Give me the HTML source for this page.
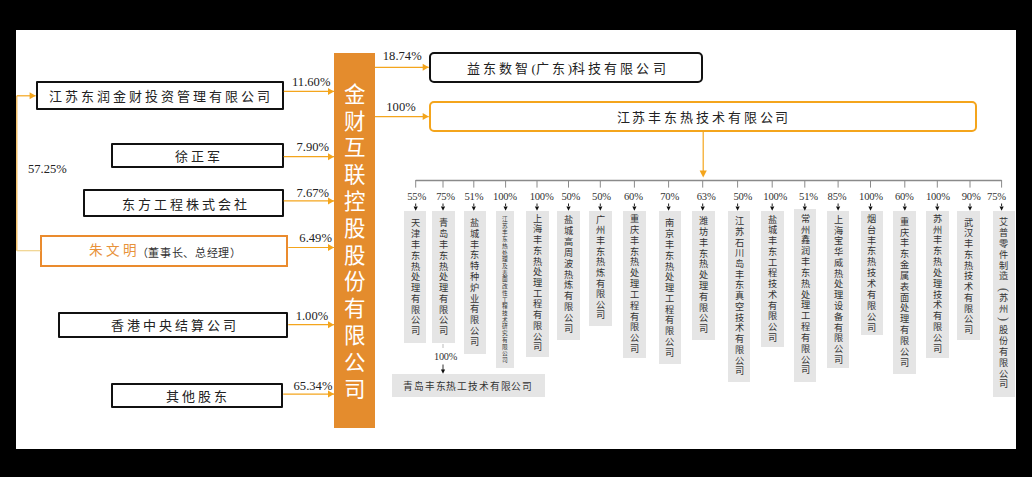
<!DOCTYPE html>
<html lang="zh-CN"><head><meta charset="utf-8"><style>
html,body{margin:0;padding:0;width:1032px;height:477px;overflow:hidden;background:#000}
body{position:relative;font-family:"Liberation Serif", serif}
#panel{position:absolute;left:16px;top:30px;width:1000px;height:419px;background:#fff}
svg{position:absolute;left:0;top:0}
</style></head><body>
<div id="panel"></div>
<div style="position:absolute;left:35.6px;top:80.5px;width:248.20000000000002px;height:29.599999999999994px;box-sizing:border-box;border:2.4px solid #111;border-radius:1px;background:#fff"></div><div style="position:absolute;left:48.54px;top:90.08px;font-size:13px;line-height:13px;color:#222;letter-spacing:3.0px;white-space:nowrap;">江苏东润金财投资管理有限公司</div><div style="position:absolute;left:230.39999999999998px;width:100px;top:76.058px;text-align:right;font-family:'Liberation Serif', serif;font-size:12.6px;line-height:12.6px;color:#222;white-space:nowrap">11.60%</div><div style="position:absolute;left:110.5px;top:142.8px;width:173.2px;height:24.899999999999977px;box-sizing:border-box;border:2.4px solid #111;border-radius:1px;background:#fff"></div><div style="position:absolute;left:174.64000000000001px;top:149.98px;font-size:13px;line-height:13px;color:#222;letter-spacing:3.0px;white-space:nowrap;">徐正军</div><div style="position:absolute;left:229px;width:100px;top:141.45800000000003px;text-align:right;font-family:'Liberation Serif', serif;font-size:12.6px;line-height:12.6px;color:#222;white-space:nowrap">7.90%</div><div style="position:absolute;left:82.5px;top:189.0px;width:201.2px;height:28.19999999999999px;box-sizing:border-box;border:2.4px solid #111;border-radius:1px;background:#fff"></div><div style="position:absolute;left:121.74px;top:197.67999999999998px;font-size:13px;line-height:13px;color:#222;letter-spacing:3.0px;white-space:nowrap;">东方工程株式会社</div><div style="position:absolute;left:229px;width:100px;top:186.65800000000002px;text-align:right;font-family:'Liberation Serif', serif;font-size:12.6px;line-height:12.6px;color:#222;white-space:nowrap">7.67%</div><div style="position:absolute;left:58.4px;top:312.4px;width:229.9px;height:25.200000000000045px;box-sizing:border-box;border:2.4px solid #111;border-radius:1px;background:#fff"></div><div style="position:absolute;left:111.03999999999999px;top:319.48px;font-size:13px;line-height:13px;color:#222;letter-spacing:3.0px;white-space:nowrap;">香港中央结算公司</div><div style="position:absolute;left:228.2px;width:100px;top:309.858px;text-align:right;font-family:'Liberation Serif', serif;font-size:12.6px;line-height:12.6px;color:#222;white-space:nowrap">1.00%</div><div style="position:absolute;left:110.8px;top:382.7px;width:172.39999999999998px;height:25.0px;box-sizing:border-box;border:2.4px solid #111;border-radius:1px;background:#fff"></div><div style="position:absolute;left:166.34px;top:389.68px;font-size:13px;line-height:13px;color:#222;letter-spacing:3.0px;white-space:nowrap;">其他股东</div><div style="position:absolute;left:232.39999999999998px;width:100px;top:380.158px;text-align:right;font-family:'Liberation Serif', serif;font-size:12.6px;line-height:12.6px;color:#222;white-space:nowrap">65.34%</div><div style="position:absolute;left:39.5px;top:234.5px;width:248.8px;height:32.10000000000002px;box-sizing:border-box;border:2.6px solid #EA8B2E;border-radius:0px;background:#fff"></div><div style="position:absolute;left:89.0px;top:244.3px;font-size:13.6px;line-height:13.6px;color:#E8923A;letter-spacing:2.9px;white-space:nowrap;">朱文明</div><div style="position:absolute;left:136.5px;top:248.3px;font-size:11px;line-height:11px;color:#333;letter-spacing:0.7px;white-space:nowrap;">（董事长、总经理）</div><div style="position:absolute;left:231.89999999999998px;width:100px;top:231.858px;text-align:right;font-family:'Liberation Serif', serif;font-size:12.6px;line-height:12.6px;color:#222">6.49%</div><div style="position:absolute;left:28px;top:163.058px;font-family:'Liberation Serif', serif;font-size:12.6px;line-height:12.6px;color:#222">57.25%</div><div style="position:absolute;left:334px;top:52.6px;width:41px;height:375.6px;background:#E48C2D"></div><div style="position:absolute;left:334px;width:41px;top:84.86px;text-align:center;font-size:21.5px;line-height:21.5px;color:#fff">金</div><div style="position:absolute;left:334px;width:41px;top:111.66px;text-align:center;font-size:21.5px;line-height:21.5px;color:#fff">财</div><div style="position:absolute;left:334px;width:41px;top:138.45px;text-align:center;font-size:21.5px;line-height:21.5px;color:#fff">互</div><div style="position:absolute;left:334px;width:41px;top:165.25px;text-align:center;font-size:21.5px;line-height:21.5px;color:#fff">联</div><div style="position:absolute;left:334px;width:41px;top:192.05px;text-align:center;font-size:21.5px;line-height:21.5px;color:#fff">控</div><div style="position:absolute;left:334px;width:41px;top:218.85px;text-align:center;font-size:21.5px;line-height:21.5px;color:#fff">股</div><div style="position:absolute;left:334px;width:41px;top:245.66px;text-align:center;font-size:21.5px;line-height:21.5px;color:#fff">股</div><div style="position:absolute;left:334px;width:41px;top:272.46px;text-align:center;font-size:21.5px;line-height:21.5px;color:#fff">份</div><div style="position:absolute;left:334px;width:41px;top:299.25px;text-align:center;font-size:21.5px;line-height:21.5px;color:#fff">有</div><div style="position:absolute;left:334px;width:41px;top:326.06px;text-align:center;font-size:21.5px;line-height:21.5px;color:#fff">限</div><div style="position:absolute;left:334px;width:41px;top:352.86px;text-align:center;font-size:21.5px;line-height:21.5px;color:#fff">公</div><div style="position:absolute;left:334px;width:41px;top:379.66px;text-align:center;font-size:21.5px;line-height:21.5px;color:#fff">司</div><div style="position:absolute;left:428.7px;top:52.4px;width:273.90000000000003px;height:30.300000000000004px;box-sizing:border-box;border:2.4px solid #111;border-radius:5px;background:#fff"></div><div style="position:absolute;left:467.1px;top:61.7px;font-size:13px;line-height:13px;color:#222;letter-spacing:3.07px;white-space:nowrap;">益东数智<span style="letter-spacing:0">(</span>广东<span style="letter-spacing:0">)</span>科技有限公司</div><div style="position:absolute;left:382.8px;top:50.458px;font-family:'Liberation Serif', serif;font-size:12.6px;line-height:12.6px;color:#222">18.74%</div><div style="position:absolute;left:428.7px;top:101.2px;width:548.8px;height:30.799999999999997px;box-sizing:border-box;border:2.5px solid #F4A51C;border-radius:5px;background:#fff"></div><div style="position:absolute;left:616.5px;top:111px;font-size:13px;line-height:13px;color:#222;letter-spacing:2.9px;white-space:nowrap;">江苏丰东热技术有限公司</div><div style="position:absolute;left:386.3px;top:100.858px;font-family:'Liberation Serif', serif;font-size:12.6px;line-height:12.6px;color:#222">100%</div><div style="position:absolute;left:386.7px;width:60px;top:191.99800000000002px;text-align:center;font-family:'Liberation Serif', serif;font-size:10.6px;line-height:10.6px;color:#333;letter-spacing:-0.2px">55%</div><div style="position:absolute;left:415.6px;width:60px;top:191.99800000000002px;text-align:center;font-family:'Liberation Serif', serif;font-size:10.6px;line-height:10.6px;color:#333;letter-spacing:-0.2px">75%</div><div style="position:absolute;left:443.9px;width:60px;top:191.99800000000002px;text-align:center;font-family:'Liberation Serif', serif;font-size:10.6px;line-height:10.6px;color:#333;letter-spacing:-0.2px">51%</div><div style="position:absolute;left:475px;width:60px;top:191.99800000000002px;text-align:center;font-family:'Liberation Serif', serif;font-size:10.6px;line-height:10.6px;color:#333;letter-spacing:-0.2px">100%</div><div style="position:absolute;left:511.6px;width:60px;top:191.99800000000002px;text-align:center;font-family:'Liberation Serif', serif;font-size:10.6px;line-height:10.6px;color:#333;letter-spacing:-0.2px">100%</div><div style="position:absolute;left:540.8px;width:60px;top:191.99800000000002px;text-align:center;font-family:'Liberation Serif', serif;font-size:10.6px;line-height:10.6px;color:#333;letter-spacing:-0.2px">50%</div><div style="position:absolute;left:571.5px;width:60px;top:191.99800000000002px;text-align:center;font-family:'Liberation Serif', serif;font-size:10.6px;line-height:10.6px;color:#333;letter-spacing:-0.2px">50%</div><div style="position:absolute;left:603.4px;width:60px;top:191.99800000000002px;text-align:center;font-family:'Liberation Serif', serif;font-size:10.6px;line-height:10.6px;color:#333;letter-spacing:-0.2px">60%</div><div style="position:absolute;left:639.7px;width:60px;top:191.99800000000002px;text-align:center;font-family:'Liberation Serif', serif;font-size:10.6px;line-height:10.6px;color:#333;letter-spacing:-0.2px">70%</div><div style="position:absolute;left:676.2px;width:60px;top:191.99800000000002px;text-align:center;font-family:'Liberation Serif', serif;font-size:10.6px;line-height:10.6px;color:#333;letter-spacing:-0.2px">63%</div><div style="position:absolute;left:712.8px;width:60px;top:191.99800000000002px;text-align:center;font-family:'Liberation Serif', serif;font-size:10.6px;line-height:10.6px;color:#333;letter-spacing:-0.2px">50%</div><div style="position:absolute;left:745.3px;width:60px;top:191.99800000000002px;text-align:center;font-family:'Liberation Serif', serif;font-size:10.6px;line-height:10.6px;color:#333;letter-spacing:-0.2px">100%</div><div style="position:absolute;left:778.5px;width:60px;top:191.99800000000002px;text-align:center;font-family:'Liberation Serif', serif;font-size:10.6px;line-height:10.6px;color:#333;letter-spacing:-0.2px">51%</div><div style="position:absolute;left:807px;width:60px;top:191.99800000000002px;text-align:center;font-family:'Liberation Serif', serif;font-size:10.6px;line-height:10.6px;color:#333;letter-spacing:-0.2px">85%</div><div style="position:absolute;left:841px;width:60px;top:191.99800000000002px;text-align:center;font-family:'Liberation Serif', serif;font-size:10.6px;line-height:10.6px;color:#333;letter-spacing:-0.2px">100%</div><div style="position:absolute;left:874.3px;width:60px;top:191.99800000000002px;text-align:center;font-family:'Liberation Serif', serif;font-size:10.6px;line-height:10.6px;color:#333;letter-spacing:-0.2px">60%</div><div style="position:absolute;left:907.9px;width:60px;top:191.99800000000002px;text-align:center;font-family:'Liberation Serif', serif;font-size:10.6px;line-height:10.6px;color:#333;letter-spacing:-0.2px">100%</div><div style="position:absolute;left:941.2px;width:60px;top:191.99800000000002px;text-align:center;font-family:'Liberation Serif', serif;font-size:10.6px;line-height:10.6px;color:#333;letter-spacing:-0.2px">90%</div><div style="position:absolute;left:966.5px;width:60px;top:191.99800000000002px;text-align:center;font-family:'Liberation Serif', serif;font-size:10.6px;line-height:10.6px;color:#333;letter-spacing:-0.2px">75%</div><div style="position:absolute;left:404px;top:211.2px;width:22.2px;height:132.0px;background:#E5E5E5"></div><div style="position:absolute;left:405.1px;width:20px;top:219.42px;text-align:center;font-size:9.2px;line-height:9.2px;color:#333">天</div><div style="position:absolute;left:405.1px;width:20px;top:230.20px;text-align:center;font-size:9.2px;line-height:9.2px;color:#333">津</div><div style="position:absolute;left:405.1px;width:20px;top:240.97px;text-align:center;font-size:9.2px;line-height:9.2px;color:#333">丰</div><div style="position:absolute;left:405.1px;width:20px;top:251.74px;text-align:center;font-size:9.2px;line-height:9.2px;color:#333">东</div><div style="position:absolute;left:405.1px;width:20px;top:262.51px;text-align:center;font-size:9.2px;line-height:9.2px;color:#333">热</div><div style="position:absolute;left:405.1px;width:20px;top:273.28px;text-align:center;font-size:9.2px;line-height:9.2px;color:#333">处</div><div style="position:absolute;left:405.1px;width:20px;top:284.06px;text-align:center;font-size:9.2px;line-height:9.2px;color:#333">理</div><div style="position:absolute;left:405.1px;width:20px;top:294.83px;text-align:center;font-size:9.2px;line-height:9.2px;color:#333">有</div><div style="position:absolute;left:405.1px;width:20px;top:305.60px;text-align:center;font-size:9.2px;line-height:9.2px;color:#333">限</div><div style="position:absolute;left:405.1px;width:20px;top:316.37px;text-align:center;font-size:9.2px;line-height:9.2px;color:#333">公</div><div style="position:absolute;left:405.1px;width:20px;top:327.14px;text-align:center;font-size:9.2px;line-height:9.2px;color:#333">司</div><div style="position:absolute;left:432.3px;top:211.2px;width:22.7px;height:132.2px;background:#E5E5E5"></div><div style="position:absolute;left:433.65px;width:20px;top:219.42px;text-align:center;font-size:9.2px;line-height:9.2px;color:#333">青</div><div style="position:absolute;left:433.65px;width:20px;top:230.20px;text-align:center;font-size:9.2px;line-height:9.2px;color:#333">岛</div><div style="position:absolute;left:433.65px;width:20px;top:240.97px;text-align:center;font-size:9.2px;line-height:9.2px;color:#333">丰</div><div style="position:absolute;left:433.65px;width:20px;top:251.74px;text-align:center;font-size:9.2px;line-height:9.2px;color:#333">东</div><div style="position:absolute;left:433.65px;width:20px;top:262.51px;text-align:center;font-size:9.2px;line-height:9.2px;color:#333">热</div><div style="position:absolute;left:433.65px;width:20px;top:273.28px;text-align:center;font-size:9.2px;line-height:9.2px;color:#333">处</div><div style="position:absolute;left:433.65px;width:20px;top:284.06px;text-align:center;font-size:9.2px;line-height:9.2px;color:#333">理</div><div style="position:absolute;left:433.65px;width:20px;top:294.83px;text-align:center;font-size:9.2px;line-height:9.2px;color:#333">有</div><div style="position:absolute;left:433.65px;width:20px;top:305.60px;text-align:center;font-size:9.2px;line-height:9.2px;color:#333">限</div><div style="position:absolute;left:433.65px;width:20px;top:316.37px;text-align:center;font-size:9.2px;line-height:9.2px;color:#333">公</div><div style="position:absolute;left:433.65px;width:20px;top:327.14px;text-align:center;font-size:9.2px;line-height:9.2px;color:#333">司</div><div style="position:absolute;left:464px;top:211.2px;width:21.8px;height:143.0px;background:#E5E5E5"></div><div style="position:absolute;left:464.9px;width:20px;top:219.02px;text-align:center;font-size:9.2px;line-height:9.2px;color:#333">盐</div><div style="position:absolute;left:464.9px;width:20px;top:229.83px;text-align:center;font-size:9.2px;line-height:9.2px;color:#333">城</div><div style="position:absolute;left:464.9px;width:20px;top:240.63px;text-align:center;font-size:9.2px;line-height:9.2px;color:#333">丰</div><div style="position:absolute;left:464.9px;width:20px;top:251.43px;text-align:center;font-size:9.2px;line-height:9.2px;color:#333">东</div><div style="position:absolute;left:464.9px;width:20px;top:262.23px;text-align:center;font-size:9.2px;line-height:9.2px;color:#333">特</div><div style="position:absolute;left:464.9px;width:20px;top:273.03px;text-align:center;font-size:9.2px;line-height:9.2px;color:#333">种</div><div style="position:absolute;left:464.9px;width:20px;top:283.83px;text-align:center;font-size:9.2px;line-height:9.2px;color:#333">炉</div><div style="position:absolute;left:464.9px;width:20px;top:294.64px;text-align:center;font-size:9.2px;line-height:9.2px;color:#333">业</div><div style="position:absolute;left:464.9px;width:20px;top:305.44px;text-align:center;font-size:9.2px;line-height:9.2px;color:#333">有</div><div style="position:absolute;left:464.9px;width:20px;top:316.24px;text-align:center;font-size:9.2px;line-height:9.2px;color:#333">限</div><div style="position:absolute;left:464.9px;width:20px;top:327.04px;text-align:center;font-size:9.2px;line-height:9.2px;color:#333">公</div><div style="position:absolute;left:464.9px;width:20px;top:337.84px;text-align:center;font-size:9.2px;line-height:9.2px;color:#333">司</div><div style="position:absolute;left:496.3px;top:211.2px;width:17.4px;height:156.8px;background:#E5E5E5"></div><div style="position:absolute;left:495.0px;width:20px;top:216.93px;text-align:center;font-size:5.7px;line-height:5.7px;color:#333">江</div><div style="position:absolute;left:495.0px;width:20px;top:223.65px;text-align:center;font-size:5.7px;line-height:5.7px;color:#333">苏</div><div style="position:absolute;left:495.0px;width:20px;top:230.37px;text-align:center;font-size:5.7px;line-height:5.7px;color:#333">丰</div><div style="position:absolute;left:495.0px;width:20px;top:237.10px;text-align:center;font-size:5.7px;line-height:5.7px;color:#333">东</div><div style="position:absolute;left:495.0px;width:20px;top:243.82px;text-align:center;font-size:5.7px;line-height:5.7px;color:#333">热</div><div style="position:absolute;left:495.0px;width:20px;top:250.54px;text-align:center;font-size:5.7px;line-height:5.7px;color:#333">处</div><div style="position:absolute;left:495.0px;width:20px;top:257.26px;text-align:center;font-size:5.7px;line-height:5.7px;color:#333">理</div><div style="position:absolute;left:495.0px;width:20px;top:263.99px;text-align:center;font-size:5.7px;line-height:5.7px;color:#333">及</div><div style="position:absolute;left:495.0px;width:20px;top:270.71px;text-align:center;font-size:5.7px;line-height:5.7px;color:#333">表</div><div style="position:absolute;left:495.0px;width:20px;top:277.43px;text-align:center;font-size:5.7px;line-height:5.7px;color:#333">面</div><div style="position:absolute;left:495.0px;width:20px;top:284.15px;text-align:center;font-size:5.7px;line-height:5.7px;color:#333">改</div><div style="position:absolute;left:495.0px;width:20px;top:290.88px;text-align:center;font-size:5.7px;line-height:5.7px;color:#333">性</div><div style="position:absolute;left:495.0px;width:20px;top:297.60px;text-align:center;font-size:5.7px;line-height:5.7px;color:#333">工</div><div style="position:absolute;left:495.0px;width:20px;top:304.32px;text-align:center;font-size:5.7px;line-height:5.7px;color:#333">程</div><div style="position:absolute;left:495.0px;width:20px;top:311.04px;text-align:center;font-size:5.7px;line-height:5.7px;color:#333">技</div><div style="position:absolute;left:495.0px;width:20px;top:317.76px;text-align:center;font-size:5.7px;line-height:5.7px;color:#333">术</div><div style="position:absolute;left:495.0px;width:20px;top:324.49px;text-align:center;font-size:5.7px;line-height:5.7px;color:#333">研</div><div style="position:absolute;left:495.0px;width:20px;top:331.21px;text-align:center;font-size:5.7px;line-height:5.7px;color:#333">究</div><div style="position:absolute;left:495.0px;width:20px;top:337.93px;text-align:center;font-size:5.7px;line-height:5.7px;color:#333">有</div><div style="position:absolute;left:495.0px;width:20px;top:344.65px;text-align:center;font-size:5.7px;line-height:5.7px;color:#333">限</div><div style="position:absolute;left:495.0px;width:20px;top:351.38px;text-align:center;font-size:5.7px;line-height:5.7px;color:#333">公</div><div style="position:absolute;left:495.0px;width:20px;top:358.10px;text-align:center;font-size:5.7px;line-height:5.7px;color:#333">司</div><div style="position:absolute;left:526.2px;top:211.2px;width:22.4px;height:145.4px;background:#E5E5E5"></div><div style="position:absolute;left:527.4000000000001px;width:20px;top:214.52px;text-align:center;font-size:9.2px;line-height:9.2px;color:#333">上</div><div style="position:absolute;left:527.4000000000001px;width:20px;top:225.27px;text-align:center;font-size:9.2px;line-height:9.2px;color:#333">海</div><div style="position:absolute;left:527.4000000000001px;width:20px;top:236.01px;text-align:center;font-size:9.2px;line-height:9.2px;color:#333">丰</div><div style="position:absolute;left:527.4000000000001px;width:20px;top:246.75px;text-align:center;font-size:9.2px;line-height:9.2px;color:#333">东</div><div style="position:absolute;left:527.4000000000001px;width:20px;top:257.50px;text-align:center;font-size:9.2px;line-height:9.2px;color:#333">热</div><div style="position:absolute;left:527.4000000000001px;width:20px;top:268.24px;text-align:center;font-size:9.2px;line-height:9.2px;color:#333">处</div><div style="position:absolute;left:527.4000000000001px;width:20px;top:278.98px;text-align:center;font-size:9.2px;line-height:9.2px;color:#333">理</div><div style="position:absolute;left:527.4000000000001px;width:20px;top:289.73px;text-align:center;font-size:9.2px;line-height:9.2px;color:#333">工</div><div style="position:absolute;left:527.4000000000001px;width:20px;top:300.47px;text-align:center;font-size:9.2px;line-height:9.2px;color:#333">程</div><div style="position:absolute;left:527.4000000000001px;width:20px;top:311.21px;text-align:center;font-size:9.2px;line-height:9.2px;color:#333">有</div><div style="position:absolute;left:527.4000000000001px;width:20px;top:321.96px;text-align:center;font-size:9.2px;line-height:9.2px;color:#333">限</div><div style="position:absolute;left:527.4000000000001px;width:20px;top:332.70px;text-align:center;font-size:9.2px;line-height:9.2px;color:#333">公</div><div style="position:absolute;left:527.4000000000001px;width:20px;top:343.44px;text-align:center;font-size:9.2px;line-height:9.2px;color:#333">司</div><div style="position:absolute;left:556.7px;top:211.2px;width:23.0px;height:128.6px;background:#E5E5E5"></div><div style="position:absolute;left:558.2px;width:20px;top:216.32px;text-align:center;font-size:9.2px;line-height:9.2px;color:#333">盐</div><div style="position:absolute;left:558.2px;width:20px;top:227.18px;text-align:center;font-size:9.2px;line-height:9.2px;color:#333">城</div><div style="position:absolute;left:558.2px;width:20px;top:238.03px;text-align:center;font-size:9.2px;line-height:9.2px;color:#333">高</div><div style="position:absolute;left:558.2px;width:20px;top:248.88px;text-align:center;font-size:9.2px;line-height:9.2px;color:#333">周</div><div style="position:absolute;left:558.2px;width:20px;top:259.73px;text-align:center;font-size:9.2px;line-height:9.2px;color:#333">波</div><div style="position:absolute;left:558.2px;width:20px;top:270.58px;text-align:center;font-size:9.2px;line-height:9.2px;color:#333">热</div><div style="position:absolute;left:558.2px;width:20px;top:281.44px;text-align:center;font-size:9.2px;line-height:9.2px;color:#333">炼</div><div style="position:absolute;left:558.2px;width:20px;top:292.29px;text-align:center;font-size:9.2px;line-height:9.2px;color:#333">有</div><div style="position:absolute;left:558.2px;width:20px;top:303.14px;text-align:center;font-size:9.2px;line-height:9.2px;color:#333">限</div><div style="position:absolute;left:558.2px;width:20px;top:313.99px;text-align:center;font-size:9.2px;line-height:9.2px;color:#333">公</div><div style="position:absolute;left:558.2px;width:20px;top:324.84px;text-align:center;font-size:9.2px;line-height:9.2px;color:#333">司</div><div style="position:absolute;left:589px;top:211.2px;width:22.6px;height:114.4px;background:#E5E5E5"></div><div style="position:absolute;left:590.3px;width:20px;top:215.72px;text-align:center;font-size:9.2px;line-height:9.2px;color:#333">广</div><div style="position:absolute;left:590.3px;width:20px;top:226.36px;text-align:center;font-size:9.2px;line-height:9.2px;color:#333">州</div><div style="position:absolute;left:590.3px;width:20px;top:237.00px;text-align:center;font-size:9.2px;line-height:9.2px;color:#333">丰</div><div style="position:absolute;left:590.3px;width:20px;top:247.63px;text-align:center;font-size:9.2px;line-height:9.2px;color:#333">东</div><div style="position:absolute;left:590.3px;width:20px;top:258.27px;text-align:center;font-size:9.2px;line-height:9.2px;color:#333">热</div><div style="position:absolute;left:590.3px;width:20px;top:268.90px;text-align:center;font-size:9.2px;line-height:9.2px;color:#333">炼</div><div style="position:absolute;left:590.3px;width:20px;top:279.54px;text-align:center;font-size:9.2px;line-height:9.2px;color:#333">有</div><div style="position:absolute;left:590.3px;width:20px;top:290.17px;text-align:center;font-size:9.2px;line-height:9.2px;color:#333">限</div><div style="position:absolute;left:590.3px;width:20px;top:300.81px;text-align:center;font-size:9.2px;line-height:9.2px;color:#333">公</div><div style="position:absolute;left:590.3px;width:20px;top:311.44px;text-align:center;font-size:9.2px;line-height:9.2px;color:#333">司</div><div style="position:absolute;left:623px;top:211.2px;width:22.7px;height:146.4px;background:#E5E5E5"></div><div style="position:absolute;left:624.35px;width:20px;top:215.02px;text-align:center;font-size:9.2px;line-height:9.2px;color:#333">重</div><div style="position:absolute;left:624.35px;width:20px;top:225.87px;text-align:center;font-size:9.2px;line-height:9.2px;color:#333">庆</div><div style="position:absolute;left:624.35px;width:20px;top:236.71px;text-align:center;font-size:9.2px;line-height:9.2px;color:#333">丰</div><div style="position:absolute;left:624.35px;width:20px;top:247.55px;text-align:center;font-size:9.2px;line-height:9.2px;color:#333">东</div><div style="position:absolute;left:624.35px;width:20px;top:258.40px;text-align:center;font-size:9.2px;line-height:9.2px;color:#333">热</div><div style="position:absolute;left:624.35px;width:20px;top:269.24px;text-align:center;font-size:9.2px;line-height:9.2px;color:#333">处</div><div style="position:absolute;left:624.35px;width:20px;top:280.08px;text-align:center;font-size:9.2px;line-height:9.2px;color:#333">理</div><div style="position:absolute;left:624.35px;width:20px;top:290.93px;text-align:center;font-size:9.2px;line-height:9.2px;color:#333">工</div><div style="position:absolute;left:624.35px;width:20px;top:301.77px;text-align:center;font-size:9.2px;line-height:9.2px;color:#333">程</div><div style="position:absolute;left:624.35px;width:20px;top:312.61px;text-align:center;font-size:9.2px;line-height:9.2px;color:#333">有</div><div style="position:absolute;left:624.35px;width:20px;top:323.46px;text-align:center;font-size:9.2px;line-height:9.2px;color:#333">限</div><div style="position:absolute;left:624.35px;width:20px;top:334.30px;text-align:center;font-size:9.2px;line-height:9.2px;color:#333">公</div><div style="position:absolute;left:624.35px;width:20px;top:345.14px;text-align:center;font-size:9.2px;line-height:9.2px;color:#333">司</div><div style="position:absolute;left:659px;top:211.2px;width:21.8px;height:152.9px;background:#E5E5E5"></div><div style="position:absolute;left:659.9px;width:20px;top:219.32px;text-align:center;font-size:9.2px;line-height:9.2px;color:#333">南</div><div style="position:absolute;left:659.9px;width:20px;top:230.12px;text-align:center;font-size:9.2px;line-height:9.2px;color:#333">京</div><div style="position:absolute;left:659.9px;width:20px;top:240.91px;text-align:center;font-size:9.2px;line-height:9.2px;color:#333">丰</div><div style="position:absolute;left:659.9px;width:20px;top:251.70px;text-align:center;font-size:9.2px;line-height:9.2px;color:#333">东</div><div style="position:absolute;left:659.9px;width:20px;top:262.50px;text-align:center;font-size:9.2px;line-height:9.2px;color:#333">热</div><div style="position:absolute;left:659.9px;width:20px;top:273.29px;text-align:center;font-size:9.2px;line-height:9.2px;color:#333">处</div><div style="position:absolute;left:659.9px;width:20px;top:284.08px;text-align:center;font-size:9.2px;line-height:9.2px;color:#333">理</div><div style="position:absolute;left:659.9px;width:20px;top:294.88px;text-align:center;font-size:9.2px;line-height:9.2px;color:#333">工</div><div style="position:absolute;left:659.9px;width:20px;top:305.67px;text-align:center;font-size:9.2px;line-height:9.2px;color:#333">程</div><div style="position:absolute;left:659.9px;width:20px;top:316.46px;text-align:center;font-size:9.2px;line-height:9.2px;color:#333">有</div><div style="position:absolute;left:659.9px;width:20px;top:327.26px;text-align:center;font-size:9.2px;line-height:9.2px;color:#333">限</div><div style="position:absolute;left:659.9px;width:20px;top:338.05px;text-align:center;font-size:9.2px;line-height:9.2px;color:#333">公</div><div style="position:absolute;left:659.9px;width:20px;top:348.84px;text-align:center;font-size:9.2px;line-height:9.2px;color:#333">司</div><div style="position:absolute;left:692.4px;top:211.2px;width:22.5px;height:128.7px;background:#E5E5E5"></div><div style="position:absolute;left:693.65px;width:20px;top:217.22px;text-align:center;font-size:9.2px;line-height:9.2px;color:#333">潍</div><div style="position:absolute;left:693.65px;width:20px;top:228.03px;text-align:center;font-size:9.2px;line-height:9.2px;color:#333">坊</div><div style="position:absolute;left:693.65px;width:20px;top:238.83px;text-align:center;font-size:9.2px;line-height:9.2px;color:#333">丰</div><div style="position:absolute;left:693.65px;width:20px;top:249.63px;text-align:center;font-size:9.2px;line-height:9.2px;color:#333">东</div><div style="position:absolute;left:693.65px;width:20px;top:260.43px;text-align:center;font-size:9.2px;line-height:9.2px;color:#333">热</div><div style="position:absolute;left:693.65px;width:20px;top:271.23px;text-align:center;font-size:9.2px;line-height:9.2px;color:#333">处</div><div style="position:absolute;left:693.65px;width:20px;top:282.04px;text-align:center;font-size:9.2px;line-height:9.2px;color:#333">理</div><div style="position:absolute;left:693.65px;width:20px;top:292.84px;text-align:center;font-size:9.2px;line-height:9.2px;color:#333">有</div><div style="position:absolute;left:693.65px;width:20px;top:303.64px;text-align:center;font-size:9.2px;line-height:9.2px;color:#333">限</div><div style="position:absolute;left:693.65px;width:20px;top:314.44px;text-align:center;font-size:9.2px;line-height:9.2px;color:#333">公</div><div style="position:absolute;left:693.65px;width:20px;top:325.24px;text-align:center;font-size:9.2px;line-height:9.2px;color:#333">司</div><div style="position:absolute;left:727.7px;top:211.2px;width:22.6px;height:170.8px;background:#E5E5E5"></div><div style="position:absolute;left:729.0px;width:20px;top:217.02px;text-align:center;font-size:9.2px;line-height:9.2px;color:#333">江</div><div style="position:absolute;left:729.0px;width:20px;top:227.77px;text-align:center;font-size:9.2px;line-height:9.2px;color:#333">苏</div><div style="position:absolute;left:729.0px;width:20px;top:238.51px;text-align:center;font-size:9.2px;line-height:9.2px;color:#333">石</div><div style="position:absolute;left:729.0px;width:20px;top:249.26px;text-align:center;font-size:9.2px;line-height:9.2px;color:#333">川</div><div style="position:absolute;left:729.0px;width:20px;top:260.00px;text-align:center;font-size:9.2px;line-height:9.2px;color:#333">岛</div><div style="position:absolute;left:729.0px;width:20px;top:270.75px;text-align:center;font-size:9.2px;line-height:9.2px;color:#333">丰</div><div style="position:absolute;left:729.0px;width:20px;top:281.49px;text-align:center;font-size:9.2px;line-height:9.2px;color:#333">东</div><div style="position:absolute;left:729.0px;width:20px;top:292.23px;text-align:center;font-size:9.2px;line-height:9.2px;color:#333">真</div><div style="position:absolute;left:729.0px;width:20px;top:302.98px;text-align:center;font-size:9.2px;line-height:9.2px;color:#333">空</div><div style="position:absolute;left:729.0px;width:20px;top:313.72px;text-align:center;font-size:9.2px;line-height:9.2px;color:#333">技</div><div style="position:absolute;left:729.0px;width:20px;top:324.47px;text-align:center;font-size:9.2px;line-height:9.2px;color:#333">术</div><div style="position:absolute;left:729.0px;width:20px;top:335.21px;text-align:center;font-size:9.2px;line-height:9.2px;color:#333">有</div><div style="position:absolute;left:729.0px;width:20px;top:345.96px;text-align:center;font-size:9.2px;line-height:9.2px;color:#333">限</div><div style="position:absolute;left:729.0px;width:20px;top:356.70px;text-align:center;font-size:9.2px;line-height:9.2px;color:#333">公</div><div style="position:absolute;left:729.0px;width:20px;top:367.44px;text-align:center;font-size:9.2px;line-height:9.2px;color:#333">司</div><div style="position:absolute;left:761.4px;top:211.2px;width:22.4px;height:136.0px;background:#E5E5E5"></div><div style="position:absolute;left:762.5999999999999px;width:20px;top:215.72px;text-align:center;font-size:9.2px;line-height:9.2px;color:#333">盐</div><div style="position:absolute;left:762.5999999999999px;width:20px;top:226.46px;text-align:center;font-size:9.2px;line-height:9.2px;color:#333">城</div><div style="position:absolute;left:762.5999999999999px;width:20px;top:237.20px;text-align:center;font-size:9.2px;line-height:9.2px;color:#333">丰</div><div style="position:absolute;left:762.5999999999999px;width:20px;top:247.94px;text-align:center;font-size:9.2px;line-height:9.2px;color:#333">东</div><div style="position:absolute;left:762.5999999999999px;width:20px;top:258.68px;text-align:center;font-size:9.2px;line-height:9.2px;color:#333">工</div><div style="position:absolute;left:762.5999999999999px;width:20px;top:269.41px;text-align:center;font-size:9.2px;line-height:9.2px;color:#333">程</div><div style="position:absolute;left:762.5999999999999px;width:20px;top:280.15px;text-align:center;font-size:9.2px;line-height:9.2px;color:#333">技</div><div style="position:absolute;left:762.5999999999999px;width:20px;top:290.89px;text-align:center;font-size:9.2px;line-height:9.2px;color:#333">术</div><div style="position:absolute;left:762.5999999999999px;width:20px;top:301.63px;text-align:center;font-size:9.2px;line-height:9.2px;color:#333">有</div><div style="position:absolute;left:762.5999999999999px;width:20px;top:312.37px;text-align:center;font-size:9.2px;line-height:9.2px;color:#333">限</div><div style="position:absolute;left:762.5999999999999px;width:20px;top:323.11px;text-align:center;font-size:9.2px;line-height:9.2px;color:#333">公</div><div style="position:absolute;left:762.5999999999999px;width:20px;top:333.84px;text-align:center;font-size:9.2px;line-height:9.2px;color:#333">司</div><div style="position:absolute;left:794px;top:209.4px;width:22.0px;height:172.6px;background:#E5E5E5"></div><div style="position:absolute;left:795.0px;width:20px;top:214.72px;text-align:center;font-size:9.2px;line-height:9.2px;color:#333">常</div><div style="position:absolute;left:795.0px;width:20px;top:225.55px;text-align:center;font-size:9.2px;line-height:9.2px;color:#333">州</div><div style="position:absolute;left:795.0px;width:20px;top:236.38px;text-align:center;font-size:9.2px;line-height:9.2px;color:#333">鑫</div><div style="position:absolute;left:795.0px;width:20px;top:247.21px;text-align:center;font-size:9.2px;line-height:9.2px;color:#333">润</div><div style="position:absolute;left:795.0px;width:20px;top:258.04px;text-align:center;font-size:9.2px;line-height:9.2px;color:#333">丰</div><div style="position:absolute;left:795.0px;width:20px;top:268.87px;text-align:center;font-size:9.2px;line-height:9.2px;color:#333">东</div><div style="position:absolute;left:795.0px;width:20px;top:279.70px;text-align:center;font-size:9.2px;line-height:9.2px;color:#333">热</div><div style="position:absolute;left:795.0px;width:20px;top:290.53px;text-align:center;font-size:9.2px;line-height:9.2px;color:#333">处</div><div style="position:absolute;left:795.0px;width:20px;top:301.36px;text-align:center;font-size:9.2px;line-height:9.2px;color:#333">理</div><div style="position:absolute;left:795.0px;width:20px;top:312.19px;text-align:center;font-size:9.2px;line-height:9.2px;color:#333">工</div><div style="position:absolute;left:795.0px;width:20px;top:323.02px;text-align:center;font-size:9.2px;line-height:9.2px;color:#333">程</div><div style="position:absolute;left:795.0px;width:20px;top:333.85px;text-align:center;font-size:9.2px;line-height:9.2px;color:#333">有</div><div style="position:absolute;left:795.0px;width:20px;top:344.68px;text-align:center;font-size:9.2px;line-height:9.2px;color:#333">限</div><div style="position:absolute;left:795.0px;width:20px;top:355.51px;text-align:center;font-size:9.2px;line-height:9.2px;color:#333">公</div><div style="position:absolute;left:795.0px;width:20px;top:366.34px;text-align:center;font-size:9.2px;line-height:9.2px;color:#333">司</div><div style="position:absolute;left:827px;top:211.2px;width:22.4px;height:156.8px;background:#E5E5E5"></div><div style="position:absolute;left:828.2px;width:20px;top:215.72px;text-align:center;font-size:9.2px;line-height:9.2px;color:#333">上</div><div style="position:absolute;left:828.2px;width:20px;top:226.50px;text-align:center;font-size:9.2px;line-height:9.2px;color:#333">海</div><div style="position:absolute;left:828.2px;width:20px;top:237.28px;text-align:center;font-size:9.2px;line-height:9.2px;color:#333">宝</div><div style="position:absolute;left:828.2px;width:20px;top:248.06px;text-align:center;font-size:9.2px;line-height:9.2px;color:#333">华</div><div style="position:absolute;left:828.2px;width:20px;top:258.84px;text-align:center;font-size:9.2px;line-height:9.2px;color:#333">威</div><div style="position:absolute;left:828.2px;width:20px;top:269.62px;text-align:center;font-size:9.2px;line-height:9.2px;color:#333">热</div><div style="position:absolute;left:828.2px;width:20px;top:280.39px;text-align:center;font-size:9.2px;line-height:9.2px;color:#333">处</div><div style="position:absolute;left:828.2px;width:20px;top:291.17px;text-align:center;font-size:9.2px;line-height:9.2px;color:#333">理</div><div style="position:absolute;left:828.2px;width:20px;top:301.95px;text-align:center;font-size:9.2px;line-height:9.2px;color:#333">设</div><div style="position:absolute;left:828.2px;width:20px;top:312.73px;text-align:center;font-size:9.2px;line-height:9.2px;color:#333">备</div><div style="position:absolute;left:828.2px;width:20px;top:323.51px;text-align:center;font-size:9.2px;line-height:9.2px;color:#333">有</div><div style="position:absolute;left:828.2px;width:20px;top:334.29px;text-align:center;font-size:9.2px;line-height:9.2px;color:#333">限</div><div style="position:absolute;left:828.2px;width:20px;top:345.07px;text-align:center;font-size:9.2px;line-height:9.2px;color:#333">公</div><div style="position:absolute;left:828.2px;width:20px;top:355.84px;text-align:center;font-size:9.2px;line-height:9.2px;color:#333">司</div><div style="position:absolute;left:860.8px;top:211.2px;width:22.3px;height:123.8px;background:#E5E5E5"></div><div style="position:absolute;left:861.95px;width:20px;top:214.72px;text-align:center;font-size:9.2px;line-height:9.2px;color:#333">烟</div><div style="position:absolute;left:861.95px;width:20px;top:225.62px;text-align:center;font-size:9.2px;line-height:9.2px;color:#333">台</div><div style="position:absolute;left:861.95px;width:20px;top:236.51px;text-align:center;font-size:9.2px;line-height:9.2px;color:#333">丰</div><div style="position:absolute;left:861.95px;width:20px;top:247.40px;text-align:center;font-size:9.2px;line-height:9.2px;color:#333">东</div><div style="position:absolute;left:861.95px;width:20px;top:258.29px;text-align:center;font-size:9.2px;line-height:9.2px;color:#333">热</div><div style="position:absolute;left:861.95px;width:20px;top:269.18px;text-align:center;font-size:9.2px;line-height:9.2px;color:#333">技</div><div style="position:absolute;left:861.95px;width:20px;top:280.08px;text-align:center;font-size:9.2px;line-height:9.2px;color:#333">术</div><div style="position:absolute;left:861.95px;width:20px;top:290.97px;text-align:center;font-size:9.2px;line-height:9.2px;color:#333">有</div><div style="position:absolute;left:861.95px;width:20px;top:301.86px;text-align:center;font-size:9.2px;line-height:9.2px;color:#333">限</div><div style="position:absolute;left:861.95px;width:20px;top:312.75px;text-align:center;font-size:9.2px;line-height:9.2px;color:#333">公</div><div style="position:absolute;left:861.95px;width:20px;top:323.64px;text-align:center;font-size:9.2px;line-height:9.2px;color:#333">司</div><div style="position:absolute;left:893.1px;top:211.2px;width:22.6px;height:162.6px;background:#E5E5E5"></div><div style="position:absolute;left:894.4000000000001px;width:20px;top:217.72px;text-align:center;font-size:9.2px;line-height:9.2px;color:#333">重</div><div style="position:absolute;left:894.4000000000001px;width:20px;top:228.56px;text-align:center;font-size:9.2px;line-height:9.2px;color:#333">庆</div><div style="position:absolute;left:894.4000000000001px;width:20px;top:239.40px;text-align:center;font-size:9.2px;line-height:9.2px;color:#333">丰</div><div style="position:absolute;left:894.4000000000001px;width:20px;top:250.24px;text-align:center;font-size:9.2px;line-height:9.2px;color:#333">东</div><div style="position:absolute;left:894.4000000000001px;width:20px;top:261.08px;text-align:center;font-size:9.2px;line-height:9.2px;color:#333">金</div><div style="position:absolute;left:894.4000000000001px;width:20px;top:271.92px;text-align:center;font-size:9.2px;line-height:9.2px;color:#333">属</div><div style="position:absolute;left:894.4000000000001px;width:20px;top:282.76px;text-align:center;font-size:9.2px;line-height:9.2px;color:#333">表</div><div style="position:absolute;left:894.4000000000001px;width:20px;top:293.60px;text-align:center;font-size:9.2px;line-height:9.2px;color:#333">面</div><div style="position:absolute;left:894.4000000000001px;width:20px;top:304.44px;text-align:center;font-size:9.2px;line-height:9.2px;color:#333">处</div><div style="position:absolute;left:894.4000000000001px;width:20px;top:315.28px;text-align:center;font-size:9.2px;line-height:9.2px;color:#333">理</div><div style="position:absolute;left:894.4000000000001px;width:20px;top:326.12px;text-align:center;font-size:9.2px;line-height:9.2px;color:#333">有</div><div style="position:absolute;left:894.4000000000001px;width:20px;top:336.96px;text-align:center;font-size:9.2px;line-height:9.2px;color:#333">限</div><div style="position:absolute;left:894.4000000000001px;width:20px;top:347.80px;text-align:center;font-size:9.2px;line-height:9.2px;color:#333">公</div><div style="position:absolute;left:894.4000000000001px;width:20px;top:358.64px;text-align:center;font-size:9.2px;line-height:9.2px;color:#333">司</div><div style="position:absolute;left:926.2px;top:211.2px;width:22.4px;height:146.7px;background:#E5E5E5"></div><div style="position:absolute;left:927.4000000000001px;width:20px;top:214.72px;text-align:center;font-size:9.2px;line-height:9.2px;color:#333">苏</div><div style="position:absolute;left:927.4000000000001px;width:20px;top:225.55px;text-align:center;font-size:9.2px;line-height:9.2px;color:#333">州</div><div style="position:absolute;left:927.4000000000001px;width:20px;top:236.38px;text-align:center;font-size:9.2px;line-height:9.2px;color:#333">丰</div><div style="position:absolute;left:927.4000000000001px;width:20px;top:247.20px;text-align:center;font-size:9.2px;line-height:9.2px;color:#333">东</div><div style="position:absolute;left:927.4000000000001px;width:20px;top:258.03px;text-align:center;font-size:9.2px;line-height:9.2px;color:#333">热</div><div style="position:absolute;left:927.4000000000001px;width:20px;top:268.86px;text-align:center;font-size:9.2px;line-height:9.2px;color:#333">处</div><div style="position:absolute;left:927.4000000000001px;width:20px;top:279.68px;text-align:center;font-size:9.2px;line-height:9.2px;color:#333">理</div><div style="position:absolute;left:927.4000000000001px;width:20px;top:290.51px;text-align:center;font-size:9.2px;line-height:9.2px;color:#333">技</div><div style="position:absolute;left:927.4000000000001px;width:20px;top:301.34px;text-align:center;font-size:9.2px;line-height:9.2px;color:#333">术</div><div style="position:absolute;left:927.4000000000001px;width:20px;top:312.16px;text-align:center;font-size:9.2px;line-height:9.2px;color:#333">有</div><div style="position:absolute;left:927.4000000000001px;width:20px;top:322.99px;text-align:center;font-size:9.2px;line-height:9.2px;color:#333">限</div><div style="position:absolute;left:927.4000000000001px;width:20px;top:333.82px;text-align:center;font-size:9.2px;line-height:9.2px;color:#333">公</div><div style="position:absolute;left:927.4000000000001px;width:20px;top:344.64px;text-align:center;font-size:9.2px;line-height:9.2px;color:#333">司</div><div style="position:absolute;left:957px;top:211.2px;width:22.9px;height:129.3px;background:#E5E5E5"></div><div style="position:absolute;left:958.45px;width:20px;top:218.72px;text-align:center;font-size:9.2px;line-height:9.2px;color:#333">武</div><div style="position:absolute;left:958.45px;width:20px;top:229.46px;text-align:center;font-size:9.2px;line-height:9.2px;color:#333">汉</div><div style="position:absolute;left:958.45px;width:20px;top:240.19px;text-align:center;font-size:9.2px;line-height:9.2px;color:#333">丰</div><div style="position:absolute;left:958.45px;width:20px;top:250.92px;text-align:center;font-size:9.2px;line-height:9.2px;color:#333">东</div><div style="position:absolute;left:958.45px;width:20px;top:261.65px;text-align:center;font-size:9.2px;line-height:9.2px;color:#333">热</div><div style="position:absolute;left:958.45px;width:20px;top:272.38px;text-align:center;font-size:9.2px;line-height:9.2px;color:#333">技</div><div style="position:absolute;left:958.45px;width:20px;top:283.12px;text-align:center;font-size:9.2px;line-height:9.2px;color:#333">术</div><div style="position:absolute;left:958.45px;width:20px;top:293.85px;text-align:center;font-size:9.2px;line-height:9.2px;color:#333">有</div><div style="position:absolute;left:958.45px;width:20px;top:304.58px;text-align:center;font-size:9.2px;line-height:9.2px;color:#333">限</div><div style="position:absolute;left:958.45px;width:20px;top:315.31px;text-align:center;font-size:9.2px;line-height:9.2px;color:#333">公</div><div style="position:absolute;left:958.45px;width:20px;top:326.04px;text-align:center;font-size:9.2px;line-height:9.2px;color:#333">司</div><div style="position:absolute;left:993.2px;top:211.2px;width:21.5px;height:185.7px;background:#E5E5E5"></div><div style="position:absolute;left:993.95px;width:20px;top:218.32px;text-align:center;font-size:9.2px;line-height:9.2px;color:#333">艾</div><div style="position:absolute;left:993.95px;width:20px;top:229.13px;text-align:center;font-size:9.2px;line-height:9.2px;color:#333">普</div><div style="position:absolute;left:993.95px;width:20px;top:239.94px;text-align:center;font-size:9.2px;line-height:9.2px;color:#333">零</div><div style="position:absolute;left:993.95px;width:20px;top:250.75px;text-align:center;font-size:9.2px;line-height:9.2px;color:#333">件</div><div style="position:absolute;left:993.95px;width:20px;top:261.56px;text-align:center;font-size:9.2px;line-height:9.2px;color:#333">制</div><div style="position:absolute;left:993.95px;width:20px;top:272.36px;text-align:center;font-size:9.2px;line-height:9.2px;color:#333">造</div><div style="position:absolute;left:993.95px;width:20px;top:284.25px;height:12px;text-align:center;font-family:'Liberation Serif', serif;font-size:12px;line-height:12px;color:#444;transform:rotate(90deg)">(</div><div style="position:absolute;left:993.95px;width:20px;top:293.98px;text-align:center;font-size:9.2px;line-height:9.2px;color:#333">苏</div><div style="position:absolute;left:993.95px;width:20px;top:304.79px;text-align:center;font-size:9.2px;line-height:9.2px;color:#333">州</div><div style="position:absolute;left:993.95px;width:20px;top:313.37px;height:12px;text-align:center;font-family:'Liberation Serif', serif;font-size:12px;line-height:12px;color:#444;transform:rotate(90deg)">)</div><div style="position:absolute;left:993.95px;width:20px;top:326.40px;text-align:center;font-size:9.2px;line-height:9.2px;color:#333">股</div><div style="position:absolute;left:993.95px;width:20px;top:337.21px;text-align:center;font-size:9.2px;line-height:9.2px;color:#333">份</div><div style="position:absolute;left:993.95px;width:20px;top:348.02px;text-align:center;font-size:9.2px;line-height:9.2px;color:#333">有</div><div style="position:absolute;left:993.95px;width:20px;top:358.83px;text-align:center;font-size:9.2px;line-height:9.2px;color:#333">限</div><div style="position:absolute;left:993.95px;width:20px;top:369.64px;text-align:center;font-size:9.2px;line-height:9.2px;color:#333">公</div><div style="position:absolute;left:993.95px;width:20px;top:380.44px;text-align:center;font-size:9.2px;line-height:9.2px;color:#333">司</div><div style="position:absolute;left:415.6px;width:60px;top:352.04900000000004px;text-align:center;font-family:'Liberation Serif', serif;font-size:10.3px;line-height:10.3px;color:#333;letter-spacing:-0.2px">100%</div><div style="position:absolute;left:391.9px;top:373.8px;width:152.9px;height:23.4px;background:#E5E5E5"></div><div style="position:absolute;left:403.0px;top:382.0px;font-size:9.7px;line-height:9.7px;color:#333;letter-spacing:0.85px;white-space:nowrap;">青岛丰东热工技术有限公司</div>
<svg width="1032" height="477" viewBox="0 0 1032 477"><line x1="283.8" y1="91.4" x2="334" y2="91.4" stroke="#F4A51C" stroke-width="1.2"/><polygon points="334,91.4 328,87.9 328,94.9" fill="#F4A51C"/><line x1="283.7" y1="156.7" x2="334" y2="156.7" stroke="#F4A51C" stroke-width="1.2"/><polygon points="334,156.7 328,153.2 328,160.2" fill="#F4A51C"/><line x1="283.7" y1="200.9" x2="334" y2="200.9" stroke="#F4A51C" stroke-width="1.2"/><polygon points="334,200.9 328,197.4 328,204.4" fill="#F4A51C"/><line x1="288.3" y1="324.7" x2="334" y2="324.7" stroke="#F4A51C" stroke-width="1.2"/><polygon points="334,324.7 328,321.2 328,328.2" fill="#F4A51C"/><line x1="283.2" y1="394.1" x2="334" y2="394.1" stroke="#F4A51C" stroke-width="1.2"/><polygon points="334,394.1 328,390.6 328,397.6" fill="#F4A51C"/><line x1="288.3" y1="247.5" x2="334" y2="247.5" stroke="#F4A51C" stroke-width="1.2"/><polygon points="334,247.5 328,244.0 328,251.0" fill="#F4A51C"/><line x1="16.8" y1="95.8" x2="16.8" y2="250.7" stroke="#F3B54A" stroke-width="1.2"/><line x1="16.8" y1="95.8" x2="35.6" y2="95.8" stroke="#F4A51C" stroke-width="1.2"/><polygon points="35.6,95.8 29.6,92.3 29.6,99.3" fill="#F4A51C"/><line x1="16.8" y1="250.7" x2="40.5" y2="250.7" stroke="#F0D38C" stroke-width="1.2"/><line x1="375" y1="67.3" x2="428.7" y2="67.3" stroke="#F4A51C" stroke-width="1.2"/><polygon points="428.7,67.3 422.7,63.8 422.7,70.8" fill="#F4A51C"/><line x1="375" y1="116.6" x2="428.7" y2="116.6" stroke="#F4A51C" stroke-width="1.2"/><polygon points="428.7,116.6 422.7,113.1 422.7,120.1" fill="#F4A51C"/><line x1="703.2" y1="131.3" x2="703.2" y2="171" stroke="#F4A51C" stroke-width="1.2"/><polygon points="703.2,177.5 699.6,170.5 706.8000000000001,170.5" fill="#F4A51C"/><line x1="415.7" y1="180.5" x2="1001.6" y2="180.5" stroke="#8a8a8a" stroke-width="1.3"/><line x1="415.7" y1="180" x2="415.7" y2="187.6" stroke="#8a8a8a" stroke-width="1"/><line x1="415.7" y1="203.5" x2="415.7" y2="206" stroke="#222" stroke-width="1"/><polygon points="415.7,210.8 413.59999999999997,206.60000000000002 417.8,206.60000000000002" fill="#111"/><line x1="443" y1="180" x2="443" y2="187.6" stroke="#8a8a8a" stroke-width="1"/><line x1="443" y1="203.5" x2="443" y2="206" stroke="#222" stroke-width="1"/><polygon points="443,210.8 440.9,206.60000000000002 445.1,206.60000000000002" fill="#111"/><line x1="473.8" y1="180" x2="473.8" y2="187.6" stroke="#8a8a8a" stroke-width="1"/><line x1="473.8" y1="203.5" x2="473.8" y2="206" stroke="#222" stroke-width="1"/><polygon points="473.8,210.8 471.7,206.60000000000002 475.90000000000003,206.60000000000002" fill="#111"/><line x1="505.6" y1="180" x2="505.6" y2="187.6" stroke="#8a8a8a" stroke-width="1"/><line x1="505.6" y1="203.5" x2="505.6" y2="206" stroke="#222" stroke-width="1"/><polygon points="505.6,210.8 503.5,206.60000000000002 507.70000000000005,206.60000000000002" fill="#111"/><line x1="537" y1="180" x2="537" y2="187.6" stroke="#8a8a8a" stroke-width="1"/><line x1="537" y1="203.5" x2="537" y2="206" stroke="#222" stroke-width="1"/><polygon points="537,210.8 534.9,206.60000000000002 539.1,206.60000000000002" fill="#111"/><line x1="568.5" y1="180" x2="568.5" y2="187.6" stroke="#8a8a8a" stroke-width="1"/><line x1="568.5" y1="203.5" x2="568.5" y2="206" stroke="#222" stroke-width="1"/><polygon points="568.5,210.8 566.4,206.60000000000002 570.6,206.60000000000002" fill="#111"/><line x1="600.3" y1="180" x2="600.3" y2="187.6" stroke="#8a8a8a" stroke-width="1"/><line x1="600.3" y1="203.5" x2="600.3" y2="206" stroke="#222" stroke-width="1"/><polygon points="600.3,210.8 598.1999999999999,206.60000000000002 602.4,206.60000000000002" fill="#111"/><line x1="634.4" y1="180" x2="634.4" y2="187.6" stroke="#8a8a8a" stroke-width="1"/><line x1="634.4" y1="203.5" x2="634.4" y2="206" stroke="#222" stroke-width="1"/><polygon points="634.4,210.8 632.3,206.60000000000002 636.5,206.60000000000002" fill="#111"/><line x1="668.6" y1="180" x2="668.6" y2="187.6" stroke="#8a8a8a" stroke-width="1"/><line x1="668.6" y1="203.5" x2="668.6" y2="206" stroke="#222" stroke-width="1"/><polygon points="668.6,210.8 666.5,206.60000000000002 670.7,206.60000000000002" fill="#111"/><line x1="702.7" y1="180" x2="702.7" y2="187.6" stroke="#8a8a8a" stroke-width="1"/><line x1="702.7" y1="203.5" x2="702.7" y2="206" stroke="#222" stroke-width="1"/><polygon points="702.7,210.8 700.6,206.60000000000002 704.8000000000001,206.60000000000002" fill="#111"/><line x1="737.6" y1="180" x2="737.6" y2="187.6" stroke="#8a8a8a" stroke-width="1"/><line x1="737.6" y1="203.5" x2="737.6" y2="206" stroke="#222" stroke-width="1"/><polygon points="737.6,210.8 735.5,206.60000000000002 739.7,206.60000000000002" fill="#111"/><line x1="772.2" y1="180" x2="772.2" y2="187.6" stroke="#8a8a8a" stroke-width="1"/><line x1="772.2" y1="203.5" x2="772.2" y2="206" stroke="#222" stroke-width="1"/><polygon points="772.2,210.8 770.1,206.60000000000002 774.3000000000001,206.60000000000002" fill="#111"/><line x1="804.8" y1="180" x2="804.8" y2="187.6" stroke="#8a8a8a" stroke-width="1"/><line x1="804.8" y1="203.5" x2="804.8" y2="206" stroke="#222" stroke-width="1"/><polygon points="804.8,210.8 802.6999999999999,206.60000000000002 806.9,206.60000000000002" fill="#111"/><line x1="838.1" y1="180" x2="838.1" y2="187.6" stroke="#8a8a8a" stroke-width="1"/><line x1="838.1" y1="203.5" x2="838.1" y2="206" stroke="#222" stroke-width="1"/><polygon points="838.1,210.8 836.0,206.60000000000002 840.2,206.60000000000002" fill="#111"/><line x1="870.5" y1="180" x2="870.5" y2="187.6" stroke="#8a8a8a" stroke-width="1"/><line x1="870.5" y1="203.5" x2="870.5" y2="206" stroke="#222" stroke-width="1"/><polygon points="870.5,210.8 868.4,206.60000000000002 872.6,206.60000000000002" fill="#111"/><line x1="904.8" y1="180" x2="904.8" y2="187.6" stroke="#8a8a8a" stroke-width="1"/><line x1="904.8" y1="203.5" x2="904.8" y2="206" stroke="#222" stroke-width="1"/><polygon points="904.8,210.8 902.6999999999999,206.60000000000002 906.9,206.60000000000002" fill="#111"/><line x1="937.3" y1="180" x2="937.3" y2="187.6" stroke="#8a8a8a" stroke-width="1"/><line x1="937.3" y1="203.5" x2="937.3" y2="206" stroke="#222" stroke-width="1"/><polygon points="937.3,210.8 935.1999999999999,206.60000000000002 939.4,206.60000000000002" fill="#111"/><line x1="970" y1="180" x2="970" y2="187.6" stroke="#8a8a8a" stroke-width="1"/><line x1="970" y1="203.5" x2="970" y2="206" stroke="#222" stroke-width="1"/><polygon points="970,210.8 967.9,206.60000000000002 972.1,206.60000000000002" fill="#111"/><line x1="1001.6" y1="180" x2="1001.6" y2="187.6" stroke="#8a8a8a" stroke-width="1"/><line x1="1001.6" y1="203.5" x2="1001.6" y2="206" stroke="#222" stroke-width="1"/><polygon points="1001.6,210.8 999.5,206.60000000000002 1003.7,206.60000000000002" fill="#111"/><line x1="443" y1="344" x2="443" y2="348" stroke="#bbb" stroke-width="1"/><line x1="443" y1="364.5" x2="443" y2="370" stroke="#333" stroke-width="1"/><polygon points="443,373.8 440.9,369.6 445.1,369.6" fill="#111"/></svg>
</body></html>
